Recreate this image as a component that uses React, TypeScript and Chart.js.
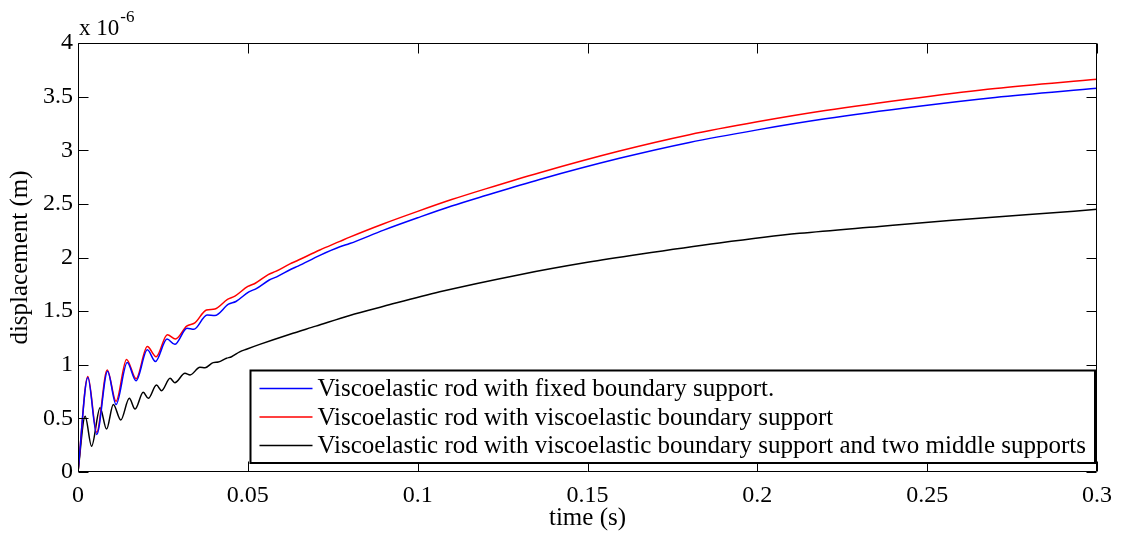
import React, { useEffect, useRef } from 'react';
import { Chart, registerables } from 'chart.js';

Chart.register(...registerables);

// ---- data (time in s, displacement in units of 1e-6 m) ----
const fixedTime = [0, 0.0029, 0.0055, 0.0087, 0.0112, 0.0145, 0.0171, 0.0204, 0.0228, 0.0262, 0.0285, 0.0321, 0.0341, 0.0380, 0.0403, 0.0443, 0.0465, 0.0503, 0.0525, 0.0563, 0.0585, 0.0627, 0.0648, 0.0712, 0.0771, 0.0800, 0.0900, 0.1000, 0.1100, 0.1200, 0.1359, 0.1594, 0.1800, 0.2000, 0.2200, 0.2476, 0.2700, 0.3000];
const fixedDisp = [0, 0.88, 0.35, 0.94, 0.63, 1.02, 0.85, 1.14, 1.03, 1.24, 1.19, 1.34, 1.33, 1.465, 1.46, 1.565, 1.59, 1.68, 1.71, 1.79, 1.82, 1.89, 1.92, 2.02, 2.10, 2.13, 2.255, 2.37, 2.48, 2.578, 2.728, 2.925, 3.073, 3.19, 3.293, 3.41, 3.492, 3.577];

const viscoTime = [0, 0.0029, 0.0055, 0.0086, 0.0112, 0.0143, 0.0171, 0.0204, 0.0230, 0.0263, 0.0287, 0.0320, 0.0344, 0.0378, 0.0403, 0.0440, 0.0462, 0.0500, 0.0522, 0.0560, 0.0582, 0.0624, 0.0645, 0.0712, 0.0771, 0.0800, 0.0900, 0.1000, 0.1100, 0.1200, 0.1359, 0.1594, 0.1800, 0.2000, 0.2200, 0.2476, 0.2700, 0.3000];
const viscoDisp = [0, 0.89, 0.37, 0.95, 0.66, 1.05, 0.87, 1.17, 1.075, 1.28, 1.24, 1.36, 1.39, 1.51, 1.52, 1.61, 1.64, 1.73, 1.76, 1.84, 1.87, 1.94, 1.97, 2.07, 2.15, 2.19, 2.315, 2.43, 2.54, 2.64, 2.791, 2.993, 3.145, 3.265, 3.37, 3.49, 3.575, 3.662];

const middleTime = [0, 0.0021, 0.0040, 0.0065, 0.0084, 0.0104, 0.0126, 0.0151, 0.0168, 0.0192, 0.0207, 0.0231, 0.0246, 0.0271, 0.0285, 0.0315, 0.0330, 0.0359, 0.0374, 0.0398, 0.0413, 0.0437, 0.0452, 0.0476, 0.0496, 0.0535, 0.0624, 0.0700, 0.0800, 0.0900, 0.1065, 0.1300, 0.1500, 0.1653, 0.1888, 0.2124, 0.2359, 0.2565, 0.2800, 0.3000];
const middleDisp = [0, 0.52, 0.24, 0.60, 0.40, 0.63, 0.485, 0.687, 0.587, 0.743, 0.687, 0.811, 0.758, 0.873, 0.833, 0.92, 0.905, 0.976, 0.972, 1.02, 1.025, 1.06, 1.075, 1.12, 1.145, 1.19, 1.285, 1.36, 1.46, 1.545, 1.68, 1.84, 1.955, 2.03, 2.135, 2.225, 2.29, 2.345, 2.40, 2.449];

const seriesLabels = [
  'Viscoelastic rod with fixed boundary support.',
  'Viscoelastic rod with viscoelastic boundary support',
  'Viscoelastic rod with viscoelastic boundary support and two middle supports',
];
const seriesColors = ['#0000ff', '#ff0000', '#000000'];

const xTicks = [0, 0.05, 0.1, 0.15, 0.2, 0.25, 0.3];
const yTicks = [0, 0.5, 1, 1.5, 2, 2.5, 3, 3.5, 4];

const FONT = "'Liberation Serif', 'Times New Roman', serif";

const framePlugin = {
  id: 'matlabFrame',
  afterDatasetsDraw(chart: any) {
    const { ctx, chartArea: a, scales } = chart;
    ctx.save();
    ctx.strokeStyle = '#000';
    ctx.lineWidth = 1;
    const L = Math.round(a.left) + 0.5;
    const R = Math.round(a.right) - 0.5;
    const T = Math.round(a.top) + 0.5;
    const B = Math.round(a.bottom) - 0.5;
    ctx.beginPath();
    ctx.rect(L, T, R - L, B - T);
    ctx.stroke();
    const tl = 10;
    ctx.beginPath();
    scales.x.ticks.forEach((t: any) => {
      const px = Math.round(scales.x.getPixelForValue(t.value)) + 0.5;
      ctx.moveTo(px, B);
      ctx.lineTo(px, B - tl);
      ctx.moveTo(px, T);
      ctx.lineTo(px, T + tl);
    });
    scales.y.ticks.forEach((t: any) => {
      const py = Math.round(scales.y.getPixelForValue(t.value)) + 0.5;
      ctx.moveTo(L, py);
      ctx.lineTo(L + tl, py);
      ctx.moveTo(R, py);
      ctx.lineTo(R - tl, py);
    });
    ctx.stroke();

    // exponent label
    ctx.fillStyle = '#000';
    ctx.textBaseline = 'alphabetic';
    ctx.textAlign = 'left';
    ctx.font = `23px ${FONT}`;
    const base = 'x 10';
    ctx.fillText(base, a.left + 1, a.top - 8);
    const w = ctx.measureText(base).width;
    ctx.font = `17px ${FONT}`;
    ctx.fillText('-6', a.left + 1 + w + 1, a.top - 21);

    // legend box
    ctx.font = `25px ${FONT}`;
    const datasets = chart.data.datasets;
    let maxW = 0;
    datasets.forEach((d: any) => {
      maxW = Math.max(maxW, ctx.measureText(d.label).width);
    });
    const boxW = 67 + maxW + 9;
    const rowH = 28.5;
    const boxH = 93;
    const boxRight = a.right - 2;
    const boxBottom = a.bottom - 9;
    const boxLeft = Math.round(boxRight - boxW) + 0.5;
    const boxTop = Math.round(boxBottom - boxH) + 0.5;
    ctx.fillStyle = '#fff';
    ctx.fillRect(boxLeft, boxTop, boxRight - boxLeft, boxBottom - boxTop);
    ctx.lineWidth = 2;
    ctx.strokeStyle = '#000';
    ctx.strokeRect(boxLeft, boxTop, boxRight - boxLeft, boxBottom - boxTop);
    datasets.forEach((d: any, i: number) => {
      const cy = boxTop + 18 + i * rowH;
      ctx.strokeStyle = d.borderColor;
      ctx.lineWidth = 1.5;
      ctx.beginPath();
      ctx.moveTo(boxLeft + 9, cy);
      ctx.lineTo(boxLeft + 62, cy);
      ctx.stroke();
      ctx.fillStyle = '#000';
      ctx.textBaseline = 'middle';
      ctx.fillText(d.label, boxLeft + 67, cy + 1);
    });
    ctx.restore();
  },
};

function toPoints(ts: number[], vs: number[]) {
  return ts.map((t, i) => ({ x: t, y: vs[i] }));
}

export default function App() {
  const ref = useRef<HTMLCanvasElement>(null);
  useEffect(() => {
    if (!ref.current) return;
    const series = [
      toPoints(fixedTime, fixedDisp),
      toPoints(viscoTime, viscoDisp),
      toPoints(middleTime, middleDisp),
    ];
    const chart = new Chart(ref.current, {
      type: 'line',
      data: {
        datasets: series.map((data, i) => ({
          label: seriesLabels[i],
          data,
          borderColor: seriesColors[i],
          backgroundColor: seriesColors[i],
          borderWidth: 1.5,
          pointRadius: 0,
          fill: false,
          cubicInterpolationMode: 'monotone' as const,
        })),
      },
      options: {
        animation: false,
        responsive: false,
        maintainAspectRatio: false,
        color: '#000',
        layout: { padding: { left: 0, top: 43, right: 23, bottom: 0 } },
        plugins: {
          legend: { display: false },
          tooltip: { enabled: false },
        },
        scales: {
          x: {
            type: 'linear',
            min: 0,
            max: 0.3,
            afterBuildTicks: (s: any) => {
              s.ticks = xTicks.map((v) => ({ value: v }));
            },
            afterFit: (s: any) => {
              s.height = 61;
            },
            grid: { display: false, drawTicks: false },
            border: { display: false },
            ticks: {
              color: '#000',
              padding: 9,
              maxRotation: 0,
              autoSkip: false,
              font: { family: FONT, size: 24 },
              callback: (v: any) => String(Number(Number(v).toFixed(2))),
            },
            title: {
              display: true,
              text: 'time (s)',
              color: '#000',
              font: { family: FONT, size: 25 },
              padding: { top: 0, bottom: 0 },
            },
          },
          y: {
            type: 'linear',
            min: 0,
            max: 4,
            afterBuildTicks: (s: any) => {
              s.ticks = yTicks.map((v) => ({ value: v }));
            },
            afterFit: (s: any) => {
              s.width = 78;
            },
            grid: { display: false, drawTicks: false },
            border: { display: false },
            ticks: {
              color: '#000',
              padding: 5,
              autoSkip: false,
              font: { family: FONT, size: 24 },
              callback: (v: any) => String(Number(Number(v).toFixed(2))),
            },
            title: {
              display: true,
              text: 'displacement (m)',
              color: '#000',
              font: { family: FONT, size: 25 },
              padding: { top: 5, bottom: 0 },
            },
          },
        },
      },
      plugins: [framePlugin],
    });
    return () => chart.destroy();
  }, []);
  return (
    <div style={{ position: 'absolute', left: 0, top: 0, width: 1121, height: 533, background: '#fff' }}>
      <canvas ref={ref} width={1121} height={533} style={{ display: 'block' }} />
    </div>
  );
}
